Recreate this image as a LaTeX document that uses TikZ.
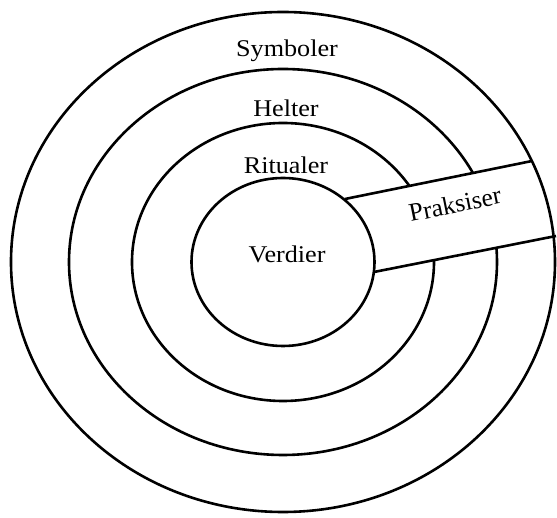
\documentclass[tikz,border=0pt]{standalone}
\usepackage{fontspec}
\setmainfont{Liberation Serif}

\begin{document}
\begin{tikzpicture}[x=1pt,y=1pt,line width=2.6pt]

\tikzstyle{every node}=[font=\fontsize{24}{28}\selectfont]
\tikzset{ringlbl/.style={anchor=base,xscale=1.09,transform shape}}

\useasboundingbox (-283,-256) rectangle (274,262);

% rings cut by the band
    \draw (0,0) ellipse [x radius=214, y radius=193];
    \draw (0,0) ellipse [x radius=151, y radius=139];

% band for Praksiser
    \coordinate (upA) at (62,63);
    \coordinate (upB) at (249,101);
    \coordinate (loA) at (91,-10);
    \coordinate (loB) at (273,26);
    \fill[white] (upA) -- (upB) -- (loB) -- (loA) -- cycle;

% inner and outer ring
    \draw (0,0) ellipse [x radius=91.5, y radius=84];
    \draw (0,0) ellipse [x radius=272, y radius=250];

% band edges
    \draw (upA) -- (upB);
    \draw (loA) -- (loB);

% labels
    \node[ringlbl] (symboler) at (4,205) {Symboler};
    \node[ringlbl] (helter) at (3,145) {Helter};
    \node[ringlbl] (ritualer) at (3,88) {Ritualer};
    \node[ringlbl] (verdier) at (4,-1) {Verdier};
    \node[rotate=11.5,font=\fontsize{25.5}{30}\selectfont] (praksiser) at (172,58) {Praksiser};
\end{tikzpicture}
\end{document}
